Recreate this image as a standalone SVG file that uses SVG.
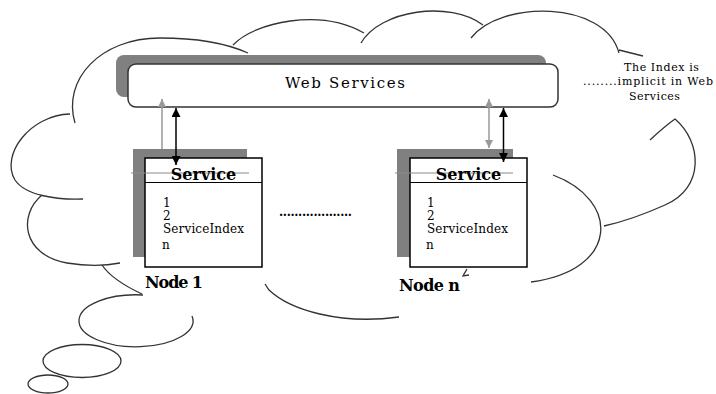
<svg xmlns="http://www.w3.org/2000/svg" width="716" height="394" viewBox="0 0 716 394">
<style>
  .cloud { fill: none; stroke: #333; stroke-width: 1.3; }
  .shadow { fill: #808080; }
  .box { fill: #fff; stroke: #000; stroke-width: 1.5; }
  .strike { stroke: #8a8a8a; stroke-width: 1; }
  .t { font-family: "DejaVu Serif", "Liberation Serif", serif; fill: #000; }
  .hdr { font-size: 16px; font-weight: bold; text-anchor: middle; }
  .item { font-size: 12px; }
  .lbl { font-size: 16px; font-weight: bold; }
  .note { font-size: 11px; }
  .ga { stroke: #999; stroke-width: 1.5; fill: none; }
  .ba { stroke: #000; stroke-width: 1.5; fill: none; }
</style>
<defs>
  <marker id="hg" viewBox="0 0 10 10" refX="10" refY="5" markerWidth="9" markerHeight="8" markerUnits="userSpaceOnUse" orient="auto-start-reverse">
    <path d="M0,0 L10,5 L0,10 z" fill="#999"/>
  </marker>
  <marker id="hb" viewBox="0 0 10 10" refX="10" refY="5" markerWidth="9" markerHeight="9" markerUnits="userSpaceOnUse" orient="auto-start-reverse">
    <path d="M0,0 L10,5 L0,10 z" fill="#000"/>
  </marker>
</defs>

<g id="cloud">
  <path class="cloud" d="M75,123 C62,80 100,38 160,38 C200,38 230,45 248,53"/>
  <path class="cloud" d="M233,45 C255,22 320,8 364,33"/>
  <path class="cloud" d="M361,43 C380,10 450,0 483,25"/>
  <path class="cloud" d="M471,38 C500,0 605,0 619,53 M619,50 L643,56"/>
  <path class="cloud" d="M650,140 Q665,126 675,119 C702,142 705,188 665,205 C645,214 622,222 604,226"/>
  <path class="cloud" d="M553,175 C620,200 620,270 531,282"/>
  <path class="cloud" d="M265,284 L269,290 C290,310 340,325 399,317"/>
  <path class="cloud" d="M467,269 L463,276 L469,275"/>
  <path class="cloud" d="M70,114 C30,115 0,155 15,180 C25,195 55,200 83,199"/>
  <path class="cloud" d="M42,195 C18,215 22,255 67,263 C85,266 105,266 120,263"/>
  <path class="cloud" d="M102,265 Q112,280 142,294"/>
  <path class="cloud" d="M143,295 A57,26 0 1 0 192,316"/>
  <ellipse class="cloud" cx="82" cy="361" rx="39" ry="16.5"/>
  <ellipse class="cloud" cx="48" cy="384" rx="20" ry="9"/>
</g>

<g id="web-services">
  <rect class="shadow" x="116" y="55" width="430" height="42" rx="8"/>
  <rect x="128" y="64" width="430" height="43" rx="8" fill="#fff" stroke="#333" stroke-width="1.5"/>
  <text class="t" x="285" y="88" font-size="15" textLength="120">Web Services</text>
</g>

<g id="node-1">
  <rect class="shadow" x="133" y="149" width="114" height="108"/>
  <rect class="box" x="145" y="158" width="117" height="109"/>
  <line x1="145" y1="182.5" x2="262" y2="182.5" stroke="#000" stroke-width="1.2"/>
  <line class="strike" x1="131" y1="173" x2="249" y2="173"/>
  <text class="t hdr" x="203.5" y="180">Service</text>
  <text class="t item" x="163" y="207">1</text>
  <text class="t item" x="163" y="220">2</text>
  <text class="t item" x="163" y="233" textLength="81">ServiceIndex</text>
  <text class="t item" x="162" y="249">n</text>
  <text class="t lbl" x="145" y="288" textLength="58">Node 1</text>
</g>

<g id="node-n">
  <rect class="shadow" x="397" y="149" width="116" height="108"/>
  <rect class="box" x="410" y="158" width="117" height="109"/>
  <line x1="410" y1="182.5" x2="527" y2="182.5" stroke="#000" stroke-width="1.2"/>
  <line class="strike" x1="395" y1="173" x2="513" y2="173"/>
  <text class="t hdr" x="468.5" y="180">Service</text>
  <text class="t item" x="427" y="207">1</text>
  <text class="t item" x="427" y="220">2</text>
  <text class="t item" x="427" y="233" textLength="81">ServiceIndex</text>
  <text class="t item" x="426" y="249">n</text>
  <text class="t lbl" x="399" y="291" textLength="61">Node n</text>
</g>

<g id="connectors">
  <line class="ga" x1="162" y1="149" x2="162" y2="99" marker-end="url(#hg)"/>
  <line class="ba" x1="176" y1="108" x2="176" y2="165" marker-start="url(#hb)" marker-end="url(#hb)"/>
  <line class="ga" x1="489" y1="99" x2="489" y2="148" marker-start="url(#hg)" marker-end="url(#hg)"/>
  <line class="ba" x1="503.5" y1="108" x2="503.5" y2="162" marker-start="url(#hb)" marker-end="url(#hb)"/>
</g>

<g id="ellipsis">
  <text class="t" x="279" y="216" font-size="12" font-weight="bold" textLength="73">...................</text>
</g>

<g id="note">
  <text class="t note" x="624" y="71" textLength="75">The Index is</text>
  <text class="t note" x="583" y="85" textLength="130">........implicit in Web</text>
  <text class="t note" x="629" y="100" textLength="51">Services</text>
</g>
</svg>
